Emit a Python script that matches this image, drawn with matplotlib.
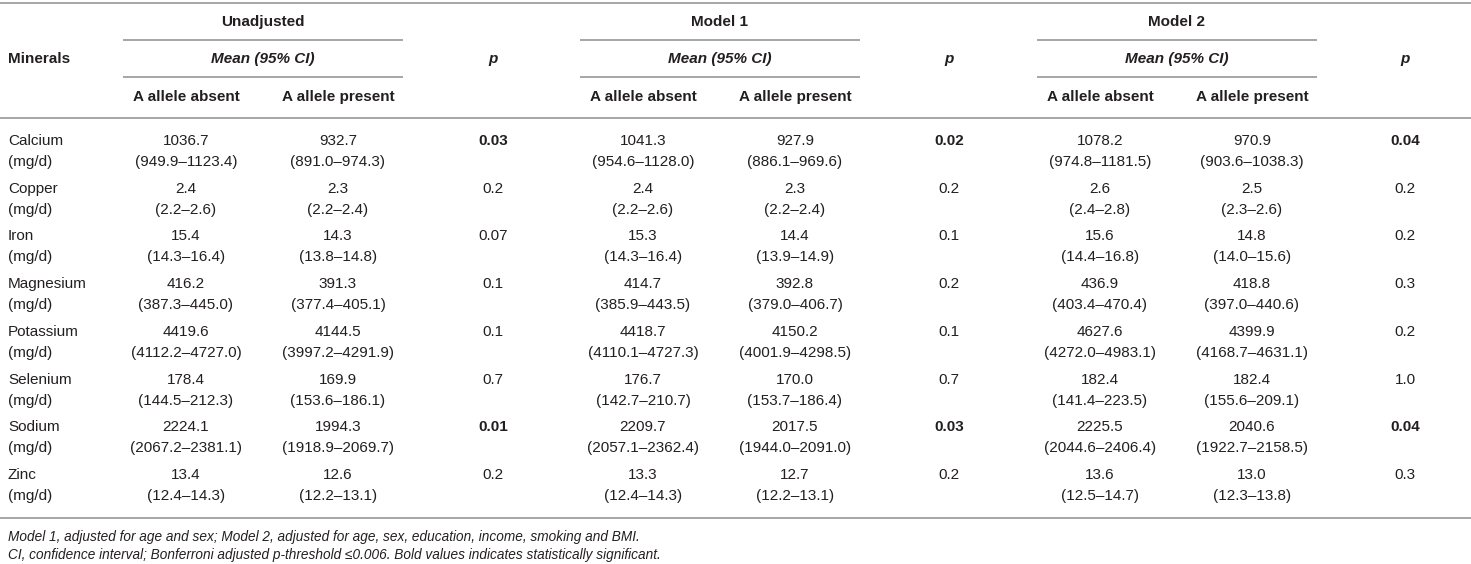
import matplotlib
matplotlib.use("Agg")
import matplotlib.pyplot as plt

minerals = ["Calcium", "Copper", "Iron", "Magnesium", "Potassium", "Selenium", "Sodium", "Zinc"]
unit = "(mg/d)"

unadj_absent = ["1036.7", "2.4", "15.4", "416.2", "4419.6", "178.4", "2224.1", "13.4"]
unadj_absent_ci = ["(949.9–1123.4)", "(2.2–2.6)", "(14.3–16.4)", "(387.3–445.0)", "(4112.2–4727.0)", "(144.5–212.3)", "(2067.2–2381.1)", "(12.4–14.3)"]
unadj_present = ["932.7", "2.3", "14.3", "391.3", "4144.5", "169.9", "1994.3", "12.6"]
unadj_present_ci = ["(891.0–974.3)", "(2.2–2.4)", "(13.8–14.8)", "(377.4–405.1)", "(3997.2–4291.9)", "(153.6–186.1)", "(1918.9–2069.7)", "(12.2–13.1)"]
unadj_p = ["0.03", "0.2", "0.07", "0.1", "0.1", "0.7", "0.01", "0.2"]

m1_absent = ["1041.3", "2.4", "15.3", "414.7", "4418.7", "176.7", "2209.7", "13.3"]
m1_absent_ci = ["(954.6–1128.0)", "(2.2–2.6)", "(14.3–16.4)", "(385.9–443.5)", "(4110.1–4727.3)", "(142.7–210.7)", "(2057.1–2362.4)", "(12.4–14.3)"]
m1_present = ["927.9", "2.3", "14.4", "392.8", "4150.2", "170.0", "2017.5", "12.7"]
m1_present_ci = ["(886.1–969.6)", "(2.2–2.4)", "(13.9–14.9)", "(379.0–406.7)", "(4001.9–4298.5)", "(153.7–186.4)", "(1944.0–2091.0)", "(12.2–13.1)"]
m1_p = ["0.02", "0.2", "0.1", "0.2", "0.1", "0.7", "0.03", "0.2"]

m2_absent = ["1078.2", "2.6", "15.6", "436.9", "4627.6", "182.4", "2225.5", "13.6"]
m2_absent_ci = ["(974.8–1181.5)", "(2.4–2.8)", "(14.4–16.8)", "(403.4–470.4)", "(4272.0–4983.1)", "(141.4–223.5)", "(2044.6–2406.4)", "(12.5–14.7)"]
m2_present = ["970.9", "2.5", "14.8", "418.8", "4399.9", "182.4", "2040.6", "13.0"]
m2_present_ci = ["(903.6–1038.3)", "(2.3–2.6)", "(14.0–15.6)", "(397.0–440.6)", "(4168.7–4631.1)", "(155.6–209.1)", "(1922.7–2158.5)", "(12.3–13.8)"]
m2_p = ["0.04", "0.2", "0.2", "0.3", "0.2", "1.0", "0.04", "0.3"]

bold_p = {("unadj", "Calcium"), ("unadj", "Sodium"), ("m1", "Calcium"), ("m1", "Sodium"),
          ("m2", "Calcium"), ("m2", "Sodium")}

group_titles = ["Unadjusted", "Model 1", "Model 2"]
sub_title = "Mean (95% CI)"
col_headers = ["A allele absent", "A allele present"]
footnotes = [
    "Model 1, adjusted for age and sex; Model 2, adjusted for age, sex, education, income, smoking and BMI.",
    "CI, confidence interval; Bonferroni adjusted p-threshold ≤0.006. Bold values indicates statistically significant.",
]

# ---- layout (pixels) ----
W, H = 1471, 564
fig = plt.figure(figsize=(W / 100, H / 100), dpi=100)
ax = fig.add_axes([0, 0, 1, 1])
ax.set_xlim(0, W)
ax.set_ylim(H, 0)
ax.axis("off")

FONT = "Liberation Sans"
FS = 11.0
TXT = "#231f20"
LINE = "#a6a6a6"
LW = 1.4

group_starts = [123, 580, 1037]
span_w = 280
abs_off, pres_off = 63, 215
p_x = [493, 949, 1405]

y_top, y_span1, y_span2, y_head = 3, 40, 77, 118
y_group, y_mean, y_colh = 22, 59, 97
row_y0, row_step, sub_dy = 141, 47.7, 21
y_bottom = 518
y_foot = [537, 555]

# lines
ax.plot([0, W], [y_top, y_top], color=LINE, lw=LW, solid_capstyle="butt")
ax.plot([0, W], [y_head, y_head], color=LINE, lw=LW, solid_capstyle="butt")
ax.plot([0, W], [y_bottom, y_bottom], color=LINE, lw=LW, solid_capstyle="butt")
for gs in group_starts:
    ax.plot([gs, gs + span_w], [y_span1, y_span1], color=LINE, lw=LW, solid_capstyle="butt")
    ax.plot([gs, gs + span_w], [y_span2, y_span2], color=LINE, lw=LW, solid_capstyle="butt")

def t(x, y, s, ha="center", weight="normal", style="normal", size=FS):
    ax.text(x, y, s, ha=ha, va="center", fontsize=size, family=FONT,
            weight=weight, style=style, color=TXT)

# header
t(8, y_mean, "Minerals", ha="left", weight="bold")
for gs, title, px in zip(group_starts, group_titles, p_x):
    t(gs + span_w / 2, y_group, title, weight="bold")
    t(gs + span_w / 2, y_mean, sub_title, weight="bold", style="italic")
    t(gs + abs_off, y_colh, col_headers[0], weight="bold")
    t(gs + pres_off, y_colh, col_headers[1], weight="bold")
    t(px, y_mean, "p", weight="bold", style="italic")

groups = [
    ("unadj", unadj_absent, unadj_absent_ci, unadj_present, unadj_present_ci, unadj_p),
    ("m1", m1_absent, m1_absent_ci, m1_present, m1_present_ci, m1_p),
    ("m2", m2_absent, m2_absent_ci, m2_present, m2_present_ci, m2_p),
]

for i, m in enumerate(minerals):
    y = row_y0 + i * row_step
    t(8, y, m, ha="left")
    t(8, y + sub_dy, unit, ha="left")
    for gi, (key, ab, abci, pr, prci, pv) in enumerate(groups):
        gs = group_starts[gi]
        t(gs + abs_off, y, ab[i])
        t(gs + abs_off, y + sub_dy, abci[i])
        t(gs + pres_off, y, pr[i])
        t(gs + pres_off, y + sub_dy, prci[i])
        t(p_x[gi], y, pv[i], weight="bold" if (key, m) in bold_p else "normal")

for fy, fn in zip(y_foot, footnotes):
    t(8, fy, fn, ha="left", style="italic", size=9.8)

fig.savefig("out.png", dpi=100, facecolor="white")
